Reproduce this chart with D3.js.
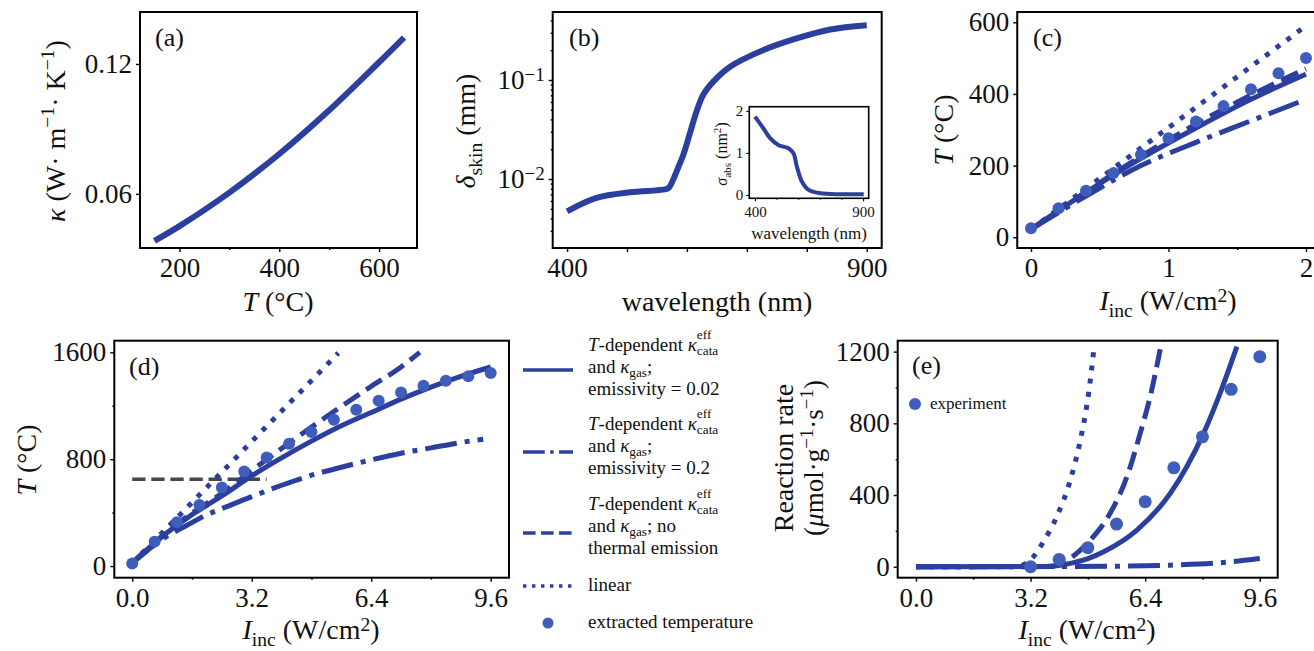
<!DOCTYPE html>
<html>
<head>
<meta charset="utf-8">
<script src="https://d3js.org/d3.v7.min.js"></script>
<style>
body { margin: 0; background: #fff; }
text { font-family: "Liberation Serif", "DejaVu Serif", serif; fill: #111; }
</style>
</head>
<body>
<script>

// ---- data ----

// (a) thermal conductivity vs temperature
const kappaT   = [150, 200, 300, 400, 500, 600, 650]
const kappaVal = [0.0383, 0.0451, 0.0606, 0.0784, 0.0986, 0.1208, 0.1322]

// (b) skin depth vs wavelength (log axis)
const skinWl    = [400, 449, 505, 560, 569, 577, 585, 594, 605, 616, 627, 644, 672, 727, 783, 839, 900]
const skinDepth = [0.00472, 0.00646, 0.00735, 0.00781, 0.0081, 0.00984, 0.0129, 0.0176, 0.029, 0.048,
                   0.0706, 0.0962, 0.136, 0.200, 0.263, 0.324, 0.358]

// (b) inset: absorption cross section
const absWl    = [400, 439, 470, 508, 555, 578, 594, 617, 648, 702, 795, 903]
const absSigma = [1.865, 1.587, 1.35, 1.19, 1.11, 0.99, 0.675, 0.32, 0.12, 0.04, 0.016, 0.016]

// (c) extracted temperature, low intensity
const cI = [0, 0.2, 0.4, 0.6, 0.8, 1.0, 1.2, 1.4, 1.6, 1.8, 2.0]
const cT = [25, 81, 130, 179, 230, 276, 323, 366, 413, 458, 500]

// (d) extracted temperature, full range
const dI = [0, 0.6, 1.2, 1.8, 2.4, 3.0, 3.6, 4.2, 4.8, 5.4, 6.0, 6.6, 7.2, 7.8, 8.4, 9.0, 9.6]
const dT = [20, 183, 328, 458, 588, 708, 813, 915, 1003, 1095, 1170, 1238, 1300, 1350, 1388, 1420, 1445]

// model curves, shared by (c) and (d)
const solidI   = [0, 0.4, 0.8, 1.2, 1.6, 2.0, 2.4, 3.2, 4.0, 4.8, 5.6, 6.4, 7.2, 8.0, 8.8, 9.6]
const solidT   = [22, 125, 220, 305, 385, 455, 525, 675, 810, 935, 1050, 1150, 1250, 1340, 1420, 1490]
const dashdotI = [0, 0.4, 0.8, 1.2, 1.6, 2.0, 2.4, 3.2, 4.0, 4.8, 5.6, 6.4, 7.2, 8.0, 8.8, 9.4]
const dashdotT = [22, 115, 200, 265, 325, 385, 430, 520, 605, 680, 740, 795, 845, 885, 925, 950]
const dashedI  = [0, 0.4, 0.8, 1.2, 1.6, 2.0, 2.4, 3.2, 4.0, 4.8, 5.6, 6.4, 7.2, 7.7]
const dashedT  = [22, 127, 226, 316, 397, 470, 545, 715, 880, 1040, 1195, 1345, 1490, 1600]
const linearI  = [0, 2.0, 5.52]
const linearT  = [22, 590, 1595]
const refI     = [0, 3.6]      // grey reference line in (d)
const refT     = [650, 650]

// (e) reaction rate
const eI = [3.2, 4.0, 4.8, 5.6, 6.4, 7.2, 8.0, 8.8, 9.6]
const eR = [0, 41, 106, 238, 363, 552, 725, 990, 1172]
const eSolidI   = [0, 3.6, 4.31, 4.8, 5.24, 6.17, 7.1, 7.56, 8.03, 8.49, 8.96]
const eSolidR   = [0, 2, 19, 45, 84, 205, 409, 558, 744, 967, 1228]
const eDashdotI = [0, 4.0, 5.6, 7.1, 8.49, 9.6]
const eDashdotR = [0, 1, 3, 9, 22, 46]
const eDashedI  = [0, 3.6, 4.03, 4.31, 4.87, 5.42, 5.89, 6.26, 6.54, 6.87]
const eDashedR  = [0, 1, 9, 46, 149, 298, 502, 744, 949, 1265]
const eDottedI  = [0, 2.8, 3.19, 3.56, 3.93, 4.31, 4.59, 4.82, 4.96]
const eDottedR  = [0, 2, 37, 140, 279, 484, 707, 967, 1200]

// ---- drawing ----

const W = 1314, H = 651
const blue = '#2b3f9e', ptBlue = '#3f5ebb', grey = '#474747'
const serif = '"Liberation Serif", "DejaVu Serif", serif'

const svg = d3.select('body').append('svg').attr('width', W).attr('height', H)
  .style('font-family', serif)
let clipN = 0

// text made of normal / italic / sup / sub pieces; {br: dy} starts a new line
// sup / sub may be a number: the shift as a fraction of the font size
function rich(t, parts, size, x0) {
  let cur = 0, prev = null, pending = 0
  parts.forEach(p => {
    if (p.br) { pending = p.br; return }
    const off = p.sup ? -(p.sup === true ? 0.38 : p.sup) * size
              : p.sub ? (p.sub === true ? 0.26 : p.sub) * size : 0
    const ts = t.append('tspan').text(p.t)
    if (pending) {
      ts.attr('x', x0).attr('dy', pending + off - cur)
      pending = 0
    } else ts.attr('dy', off - cur)
    if (p.sup || p.sub) ts.style('font-size', (size * 0.7) + 'px')
    if (p.i) ts.style('font-style', 'italic')
    if (p.stack && prev) ts.attr('dx', -prev.node().getComputedTextLength())
    cur = off
    prev = ts
  })
}

function label(x, y, parts, size, rot, anchor) {
  const t = svg.append('text')
    .attr('text-anchor', anchor || 'middle')
    .attr('font-size', size)
    .style('font-family', serif)
  if (rot) t.attr('transform', `translate(${x},${y}) rotate(-90)`)
  else t.attr('x', x).attr('y', y)
  rich(t, parts, size, rot ? 0 : x)
  return t
}

function panel(o) {
  const x = d3.scaleLinear().domain(o.xd).range([o.l, o.r])
  const y = (o.log ? d3.scaleLog() : d3.scaleLinear()).domain(o.yd).range([o.b, o.t])
  const g = svg.append('g')
  const id = 'clip' + (clipN++)
  g.append('clipPath').attr('id', id).append('rect')
    .attr('x', o.l).attr('y', o.t).attr('width', o.r - o.l).attr('height', o.b - o.t)
  if (o.bg) g.append('rect').attr('x', o.l).attr('y', o.t).attr('width', o.r - o.l).attr('height', o.b - o.t).attr('fill', '#fff')

  const ts = o.ts || 4, fs = o.fs || 27
  g.append('g').attr('transform', `translate(0,${o.b})`)
    .call(d3.axisBottom(x).tickValues(o.xt).tickFormat(o.xf || (d => d)).tickSize(ts).tickPadding(o.xpad || 6))
  g.append('g').attr('transform', `translate(${o.l},0)`)
    .call(d3.axisLeft(y).tickValues(o.yt).tickFormat(o.yf || (d => d)).tickSize(ts).tickPadding(o.ypad || 4))
  if (o.xm) g.append('g').attr('transform', `translate(0,${o.b})`)
    .call(d3.axisBottom(x).tickValues(o.xm).tickFormat('').tickSize(ts / 2))
  if (o.ym) g.append('g').attr('transform', `translate(${o.l},0)`)
    .call(d3.axisLeft(y).tickValues(o.ym).tickFormat('').tickSize(ts / 2))
  g.selectAll('.domain').remove()
  g.selectAll('.tick line').attr('stroke', '#000').attr('stroke-width', o.tw || 1.4)
  g.selectAll('.tick text').attr('font-size', fs).attr('fill', '#111').style('font-family', serif)

  const plot = g.append('g').attr('clip-path', `url(#${id})`)
  return { g, plot, x, y, o }
}

function frame(p, w) {
  const o = p.o
  p.g.append('rect').attr('x', o.l).attr('y', o.t).attr('width', o.r - o.l).attr('height', o.b - o.t)
    .attr('fill', 'none').attr('stroke', '#000').attr('stroke-width', w || 2)
}

function dash(style, w) {
  if (style === 'dashed') return [3.7 * w, 1.6 * w].join(',')
  if (style === 'dashdot') return [6.4 * w, 1.6 * w, w, 1.6 * w].join(',')
  if (style === 'dotted') return [w, 1.65 * w].join(',')
  return null
}

function line(p, xs, ys, style, w, color, curve) {
  const gen = d3.line().x(d => p.x(d[0])).y(d => p.y(d[1])).curve(curve || d3.curveMonotoneX)
  p.plot.append('path')
    .attr('d', gen(d3.zip(xs, ys)))
    .attr('fill', 'none')
    .attr('stroke', color || blue)
    .attr('stroke-width', w)
    .attr('stroke-dasharray', dash(style, w))
}

function dots(p, xs, ys, r) {
  p.plot.selectAll(null).data(d3.zip(xs, ys)).join('circle')
    .attr('cx', d => p.x(d[0])).attr('cy', d => p.y(d[1])).attr('r', r)
    .attr('fill', ptBlue)
}

const smooth = d3.curveCatmullRom.alpha(0.5)
const Iinc = [{ t: 'I', i: true }, { t: 'inc', sub: true }, { t: ' (W/cm' }, { t: '2', sup: 0.3 }, { t: ')' }]
const Tdeg = [{ t: 'T', i: true }, { t: ' (°C)' }]
const f1 = d3.format('.1f')
const LBL = 28

// (a)
const pa = panel({ l: 140, r: 417, t: 12, b: 248, xd: [121, 676], yd: [0.035, 0.144],
  xt: [200, 400, 600], xm: [300, 500], yt: [0.06, 0.12], yf: d3.format('.2f') })
line(pa, kappaT, kappaVal, 'solid', 6, blue, smooth)
frame(pa)
label(155, 46, [{ t: '(a)' }], 26, false, 'start')
label(278, 311, Tdeg, LBL)
label(65, 131, [{ t: 'κ', i: true }, { t: ' (W· m' }, { t: '−1', sup: true }, { t: '· K' }, { t: '−1', sup: true }, { t: ')' }], LBL, true)

// (b)
const pb = panel({ l: 552.7, r: 881.7, t: 12, b: 248, xd: [376, 925], yd: [0.00201, 0.486], log: true,
  xt: [400, 500, 600, 700, 800, 900], xf: d => (d === 400 || d === 900) ? d : '',
  yt: [0.01, 0.1], yf: () => '10',
  ym: [0.003, 0.004, 0.005, 0.006, 0.007, 0.008, 0.009, 0.02, 0.03, 0.04, 0.05, 0.06, 0.07, 0.08, 0.09, 0.2, 0.3, 0.4] })
pb.g.selectAll('.tick text').filter(d => d === 0.01 || d === 0.1).each(function (d) {
  d3.select(this).append('tspan').attr('dy', '-0.42em').style('font-size', '19px')
    .text('−' + Math.round(-Math.log10(d)))
})
line(pb, skinWl, skinDepth, 'solid', 6, blue, smooth)
frame(pb)
label(569, 46, [{ t: '(b)' }], 26, false, 'start')
label(717, 311, [{ t: 'wavelength (nm)' }], LBL)
label(475, 131, [{ t: 'δ', i: true }, { t: 'skin', sub: true }, { t: ' (mm)' }], LBL, true)

// (b) inset
const pi = panel({ l: 749.3, r: 868.7, t: 106.7, b: 198.3, xd: [374, 926], yd: [-0.08, 2.1], bg: true,
  xt: [400, 900], xm: [500, 600, 700, 800], yt: [0, 1, 2], ts: 3, fs: 15, xpad: 5, ypad: 3, tw: 1.1 })
line(pi, absWl, absSigma, 'solid', 4, blue, smooth)
frame(pi, 1.6)
label(809, 239, [{ t: 'wavelength (nm)' }], 17)
label(727, 154, [{ t: 'σ', i: true }, { t: 'abs', sub: true }, { t: ' (nm' }, { t: '2', sup: true }, { t: ')' }], 16, true)

// (c)
const pc = panel({ l: 1017.25, r: 1319.75, t: 12, b: 248, xd: [-0.1, 2.1], yd: [-30, 628.7],
  xt: [0, 1, 2], xm: [0.5, 1.5], yt: [0, 200, 400, 600] })
const upTo2 = (xs, ys) => [xs.filter(v => v <= 2.0001), ys.filter((v, i) => xs[i] <= 2.0001)]
line(pc, ...upTo2(solidI, solidT), 'solid', 5)
line(pc, ...upTo2(dashdotI, dashdotT), 'dashdot', 5)
line(pc, ...upTo2(dashedI, dashedT), 'dashed', 5)
line(pc, ...upTo2(linearI, linearT), 'dotted', 5)
dots(pc, cI, cT, 6)
frame(pc)
label(1033, 46, [{ t: '(c)' }], 26, false, 'start')
label(1168, 310, Iinc, LBL)
label(953, 130, Tdeg, LBL, true)

// (d)
const pd = panel({ l: 114.3, r: 509, t: 340.7, b: 577.7, xd: [-0.48, 10.09], yd: [-87, 1687],
  xt: [0, 3.2, 6.4, 9.6], xf: f1, xm: [1.6, 4.8, 8.0], yt: [0, 800, 1600], ym: [400, 1200] })
line(pd, refI, refT, 'dashed', 3.6, grey)
line(pd, solidI, solidT, 'solid', 5)
line(pd, dashdotI, dashdotT, 'dashdot', 5)
line(pd, dashedI, dashedT, 'dashed', 5)
line(pd, linearI, linearT, 'dotted', 5)
dots(pd, dI, dT, 6)
frame(pd)
label(129, 375, [{ t: '(d)' }], 26, false, 'start')
label(311, 639, Iinc, LBL)
label(36, 460, Tdeg, LBL, true)

// (e)
const pe = panel({ l: 897.7, r: 1277.7, t: 340.7, b: 577.7, xd: [-0.51, 10.1], yd: [-61, 1261],
  xt: [0, 3.2, 6.4, 9.6], xf: f1, xm: [1.6, 4.8, 8.0], yt: [0, 400, 800, 1200], ym: [200, 600, 1000] })
line(pe, eSolidI, eSolidR, 'solid', 5)
line(pe, eDashdotI, eDashdotR, 'dashdot', 5)
line(pe, eDashedI, eDashedR, 'dashed', 5)
line(pe, eDottedI, eDottedR, 'dotted', 5)
dots(pe, eI, eR, 6.5)
pe.g.append('circle').attr('cx', 915).attr('cy', 404).attr('r', 6).attr('fill', ptBlue)
label(930, 409, [{ t: 'experiment' }], 17, false, 'start')
frame(pe)
label(912, 374, [{ t: '(e)' }], 26, false, 'start')
label(1087, 639, Iinc, LBL)
label(793, 458, [{ t: 'Reaction rate' }], LBL, true)
label(823, 458, [{ t: '(' }, { t: 'μ', i: true }, { t: 'mol·g' }, { t: '−1', sup: true }, { t: '·s' }, { t: '−1', sup: true }, { t: ')' }], 27, true)

// ---- legend between (d) and (e) ----
const LS = 22  // line spacing inside an entry
const Tdep = [{ t: 'T', i: true }, { t: '-dependent ' }, { t: 'κ', i: true },
  { t: 'eff', sup: 0.62 }, { t: 'cata', sub: 0.22, stack: true }]
const andGas = [{ t: 'and ' }, { t: 'κ', i: true }, { t: 'gas', sub: 0.2 }]
const legendEntries = [
  { style: 'solid',   parts: [...Tdep, { br: LS }, ...andGas, { t: ';' }, { br: LS }, { t: 'emissivity = 0.02' }] },
  { style: 'dashdot', parts: [...Tdep, { br: LS }, ...andGas, { t: ';' }, { br: LS }, { t: 'emissivity = 0.2' }] },
  { style: 'dashed',  parts: [...Tdep, { br: LS }, ...andGas, { t: '; no' }, { br: LS }, { t: 'thermal emission' }] },
  { style: 'dotted',  parts: [{ t: 'linear' }] }
]
const legTop = [351, 430, 510, 591]
const legLineY = [370, 452, 533, 586]
legendEntries.forEach((e, k) => {
  label(588, legTop[k], e.parts, 19, false, 'start')
  svg.append('line').attr('x1', 523).attr('x2', 573).attr('y1', legLineY[k]).attr('y2', legLineY[k])
    .attr('stroke', blue).attr('stroke-width', 3.4).attr('stroke-dasharray', dash(e.style, 3.4))
})
svg.append('circle').attr('cx', 548).attr('cy', 623).attr('r', 5.5).attr('fill', ptBlue)
label(588, 628, [{ t: 'extracted temperature' }], 19, false, 'start')

</script>
</body>
</html>
